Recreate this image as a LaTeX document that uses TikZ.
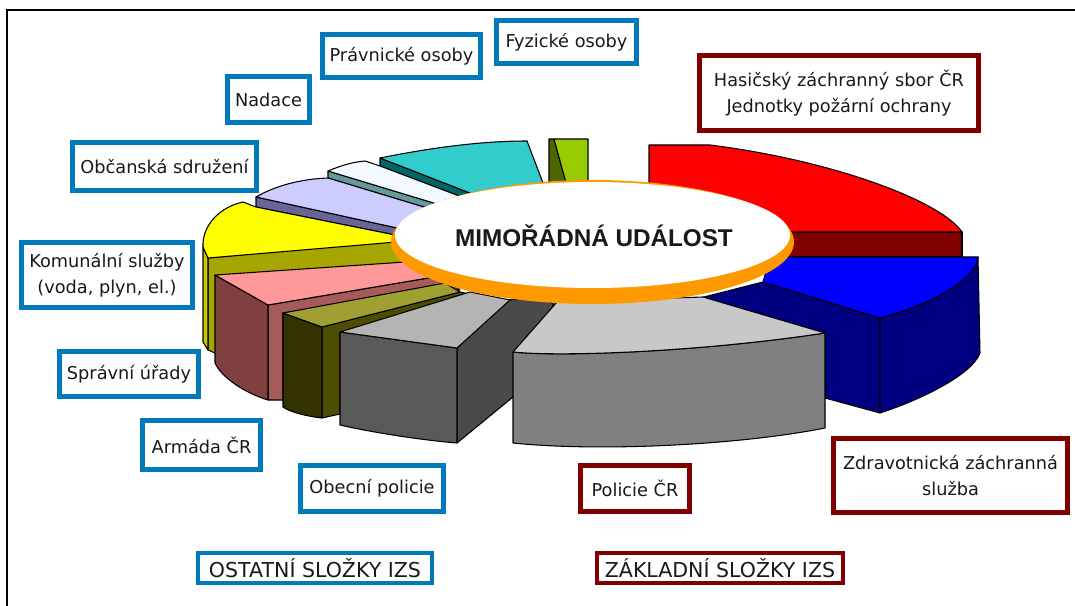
\documentclass[tikz,border=0pt]{standalone}
\usepackage{fontspec}
\newfontfamily\labfnt{DejaVu Sans}
\newfontfamily\titfnt{Liberation Sans}
\definecolor{tealtop}{HTML}{33CCCC}
\definecolor{tealdk}{HTML}{006666}
\definecolor{greenlt}{HTML}{99CC00}
\definecolor{greendk}{HTML}{4D6600}
\definecolor{whitetop}{HTML}{F2FAFF}
\definecolor{whiteside}{HTML}{669999}
\definecolor{lavtop}{HTML}{CCCCFF}
\definecolor{lavside}{HTML}{666699}
\definecolor{redtop}{HTML}{FF0000}
\definecolor{redside}{HTML}{800000}
\definecolor{yeltop}{HTML}{FFFF00}
\definecolor{yelside}{HTML}{A6A600}
\definecolor{yelrim}{HTML}{C8C800}
\definecolor{pinktop}{HTML}{FF9999}
\definecolor{pinkrim}{HTML}{804040}
\definecolor{pinkrad}{HTML}{A65A5A}
\definecolor{olivetop}{HTML}{A0A032}
\definecolor{oliverim}{HTML}{333300}
\definecolor{oliverad}{HTML}{4D4D00}
\definecolor{bluetop}{HTML}{0000FF}
\definecolor{navy}{HTML}{000080}
\definecolor{dgfront}{HTML}{595959}
\definecolor{dgside}{HTML}{4A4A4A}
\definecolor{dgtop}{HTML}{B4B4B4}
\definecolor{lgfront}{HTML}{808080}
\definecolor{lgtop}{HTML}{C8C8C8}
\definecolor{rimorange}{HTML}{FF9900}
\definecolor{boxblue}{RGB}{0,122,186}
\definecolor{boxred}{HTML}{800000}
\begin{document}
\begin{tikzpicture}[x=0.75pt,y=-0.75pt,
  sl/.style={draw=black,line width=0.8pt,line join=round},
  lbox/.style={fill=white,inner sep=0pt,align=center,text=black!90,
    font=\labfnt\fontsize{13.3}{19.5}\selectfont},
  bluebox/.style={lbox,draw=boxblue,line width=3.75pt},
  redbox/.style={lbox,draw=boxred,line width=3.75pt},
  legblue/.style={lbox,draw=boxblue,line width=3pt,font=\labfnt\fontsize{15.4}{18}\selectfont},
  legred/.style={lbox,draw=boxred,line width=3pt,font=\labfnt\fontsize{15.4}{18}\selectfont}]
\useasboundingbox (0,0) rectangle (1075,606);
\fill[white] (0,0) rectangle (1075,606);
% frame
\draw[line width=1.5pt] (7,606) -- (7,10) -- (1075,10);

% --- Pravnicke osoby (teal)
\filldraw[sl,fill=tealdk] (380,158) -- (475,195) -- (475,202) -- (380,166) -- cycle;
\filldraw[sl,fill=tealtop] (380,158) .. controls (430,148) and (480,141) .. (527,141) -- (543,183) -- (475,195) -- cycle;
% --- Fyzicke osoby (green)
\filldraw[sl,fill=greendk] (549,139) -- (554,139) -- (568,190) -- (549,190) -- cycle;
\filldraw[sl,fill=greenlt] (554,139) -- (588,139) -- (588,190) -- (568,190) -- cycle;
% --- Nadace (white)
\filldraw[sl,fill=whiteside] (328,171) -- (470,214) -- (470,221) -- (328,178) -- cycle;
\filldraw[sl,fill=whitetop] (328,171) .. controls (340,166) and (352,162) .. (365,161) -- (380,166) -- (475,202) -- (470,214) -- cycle;
% --- Obcanska sdruzeni (lavender)
\filldraw[sl,fill=lavside] (256,197) -- (420,233) -- (420,240) -- (256,207) -- cycle;
\filldraw[sl,fill=lavtop] (256,197) .. controls (275,186) and (300,179) .. (328,178) -- (470,221) -- (420,233) -- cycle;
% --- Hasicsky zachranny sbor (red)
\filldraw[sl,fill=redside] (700,232) -- (962,232) -- (962,257) -- (700,257) -- cycle;
\filldraw[sl,fill=redtop] (649,145) -- (710,145) .. controls (830,160) and (940,200) .. (962,232) -- (649,232) -- cycle;
% --- Komunalni sluzby (yellow)
\filldraw[sl,fill=yelside] (208,258) -- (420,238) -- (420,300) -- (215,353) -- (208,350) -- cycle;
\filldraw[sl,fill=yelrim] (203,247) -- (208,258) -- (208,350) -- (203,342) -- cycle;
\filldraw[sl,fill=yeltop] (243,202) -- (256,207) -- (420,240) -- (208,258) -- (203,247) .. controls (202,225) and (220,207) .. (243,202) -- cycle;
% --- Spravni urady (pink)
\filldraw[sl,fill=pinkrad] (268,305) -- (440,276) -- (460,290) -- (283,313) -- (283,400) -- (268,400) -- cycle;
\filldraw[sl,fill=pinkrim] (215,275) -- (268,305) -- (268,400) .. controls (245,393) and (222,378) .. (215,363) -- cycle;
\filldraw[sl,fill=pinktop] (215,275) -- (420,261) -- (440,276) -- (268,305) -- cycle;
% --- Armada CR (olive)
\filldraw[sl,fill=oliverad] (322,327) -- (460,292) -- (475,295) -- (340,333) -- (340,414) -- (322,418) -- cycle;
\filldraw[sl,fill=oliverim] (283,313) -- (322,327) -- (322,418) .. controls (305,416) and (290,412) .. (283,407) -- cycle;
\filldraw[sl,fill=olivetop] (283,313) -- (445,283) -- (460,292) -- (322,327) -- cycle;
% --- Zdravotnicka zachranna sluzba (blue)
\filldraw[sl,fill=navy] (700,298) -- (763,282) -- (880,318) -- (880,413) -- (825,398) -- (825,333) -- cycle;
\filldraw[sl,fill=navy] (880,318) .. controls (930,305) and (976,280) .. (978,257) -- (980,353) .. controls (972,375) and (920,400) .. (880,413) -- cycle;
\filldraw[sl,fill=bluetop] (770,257) -- (978,257) .. controls (976,280) and (930,305) .. (880,318) -- (763,282) -- cycle;
% --- Obecni policie (dark grey)
\filldraw[sl,fill=dgside] (457,348) -- (505,300) -- (556,298) -- (513,397) -- (457,443) -- cycle;
\filldraw[sl,fill=dgfront] (340,332) -- (457,348) -- (457,443) .. controls (420,440) and (370,432) .. (340,425) -- cycle;
\filldraw[sl,fill=dgtop] (340,332) -- (470,292) -- (510,300) -- (457,348) -- cycle;
\filldraw[sl,fill=tealdk] (550,299) -- (568,299) -- (557,313) -- cycle;
% --- Policie CR (light grey)
\filldraw[sl,fill=lgfront] (513,352) .. controls (560,357) and (700,352) .. (825,333) -- (825,428) .. controls (740,445) and (600,452) .. (513,443) -- cycle;
\filldraw[sl,fill=lgtop] (557,302) -- (703,297) -- (825,333) .. controls (700,352) and (560,357) .. (513,352) -- cycle;

% --- centre disc
\fill[rimorange] (592.5,242) ellipse [x radius=201.5, y radius=62];
\fill[white] (592.5,235) ellipse [x radius=197.5, y radius=53];
\node[font=\titfnt\bfseries\fontsize{18.2}{20}\selectfont,text=black!90] (title) at (594,236) {MIMOŘÁDNÁ UDÁLOST};

% --- labels
\node[bluebox,minimum width=105pt,minimum height=32.25pt] (fyz) at (566.5,42) {Fyzické osoby};
\node[bluebox,minimum width=118.5pt,minimum height=32.25pt] (prav) at (401.5,56) {Právnické osoby};
\node[bluebox,minimum width=61.5pt,minimum height=34.5pt] (nad) at (268.5,99.5) {Nadace};
\node[bluebox,minimum width=138pt,minimum height=36pt] (obc) at (164.5,166.5) {Občanská sdružení};
\node[bluebox,minimum width=128.25pt,minimum height=48.75pt] (kom) at (107,275) {Komunální služby\\(voda, plyn, el.)};
\node[bluebox,minimum width=104.25pt,minimum height=33.75pt] (spr) at (129,374) {Správní úřady};
\node[bluebox,minimum width=88.5pt,minimum height=36.75pt] (arm) at (201.5,445) {Armáda ČR};
\node[bluebox,minimum width=107.25pt,minimum height=34.5pt] (obe) at (372,488.5) {Obecní policie};
\node[legblue,minimum width=175.5pt,minimum height=22.5pt] (ost) at (315,568) {OSTATNÍ SLOŽKY IZS};
\node[redbox,minimum width=209.25pt,minimum height=56.25pt] (has) at (839,93) {Hasičský záchranný sbor ČR\\Jednotky požární ochrany};
\node[redbox,minimum width=81.75pt,minimum height=34.5pt] (pol) at (635,488.5) {Policie ČR};
\node[redbox,minimum width=175.5pt,minimum height=55.5pt] (zdr) at (950.5,475.5) {Zdravotnická záchranná\\služba};
\node[legred,minimum width=184.5pt,minimum height=22.5pt] (zak) at (720,568) {ZÁKLADNÍ SLOŽKY IZS};
\end{tikzpicture}
\end{document}
